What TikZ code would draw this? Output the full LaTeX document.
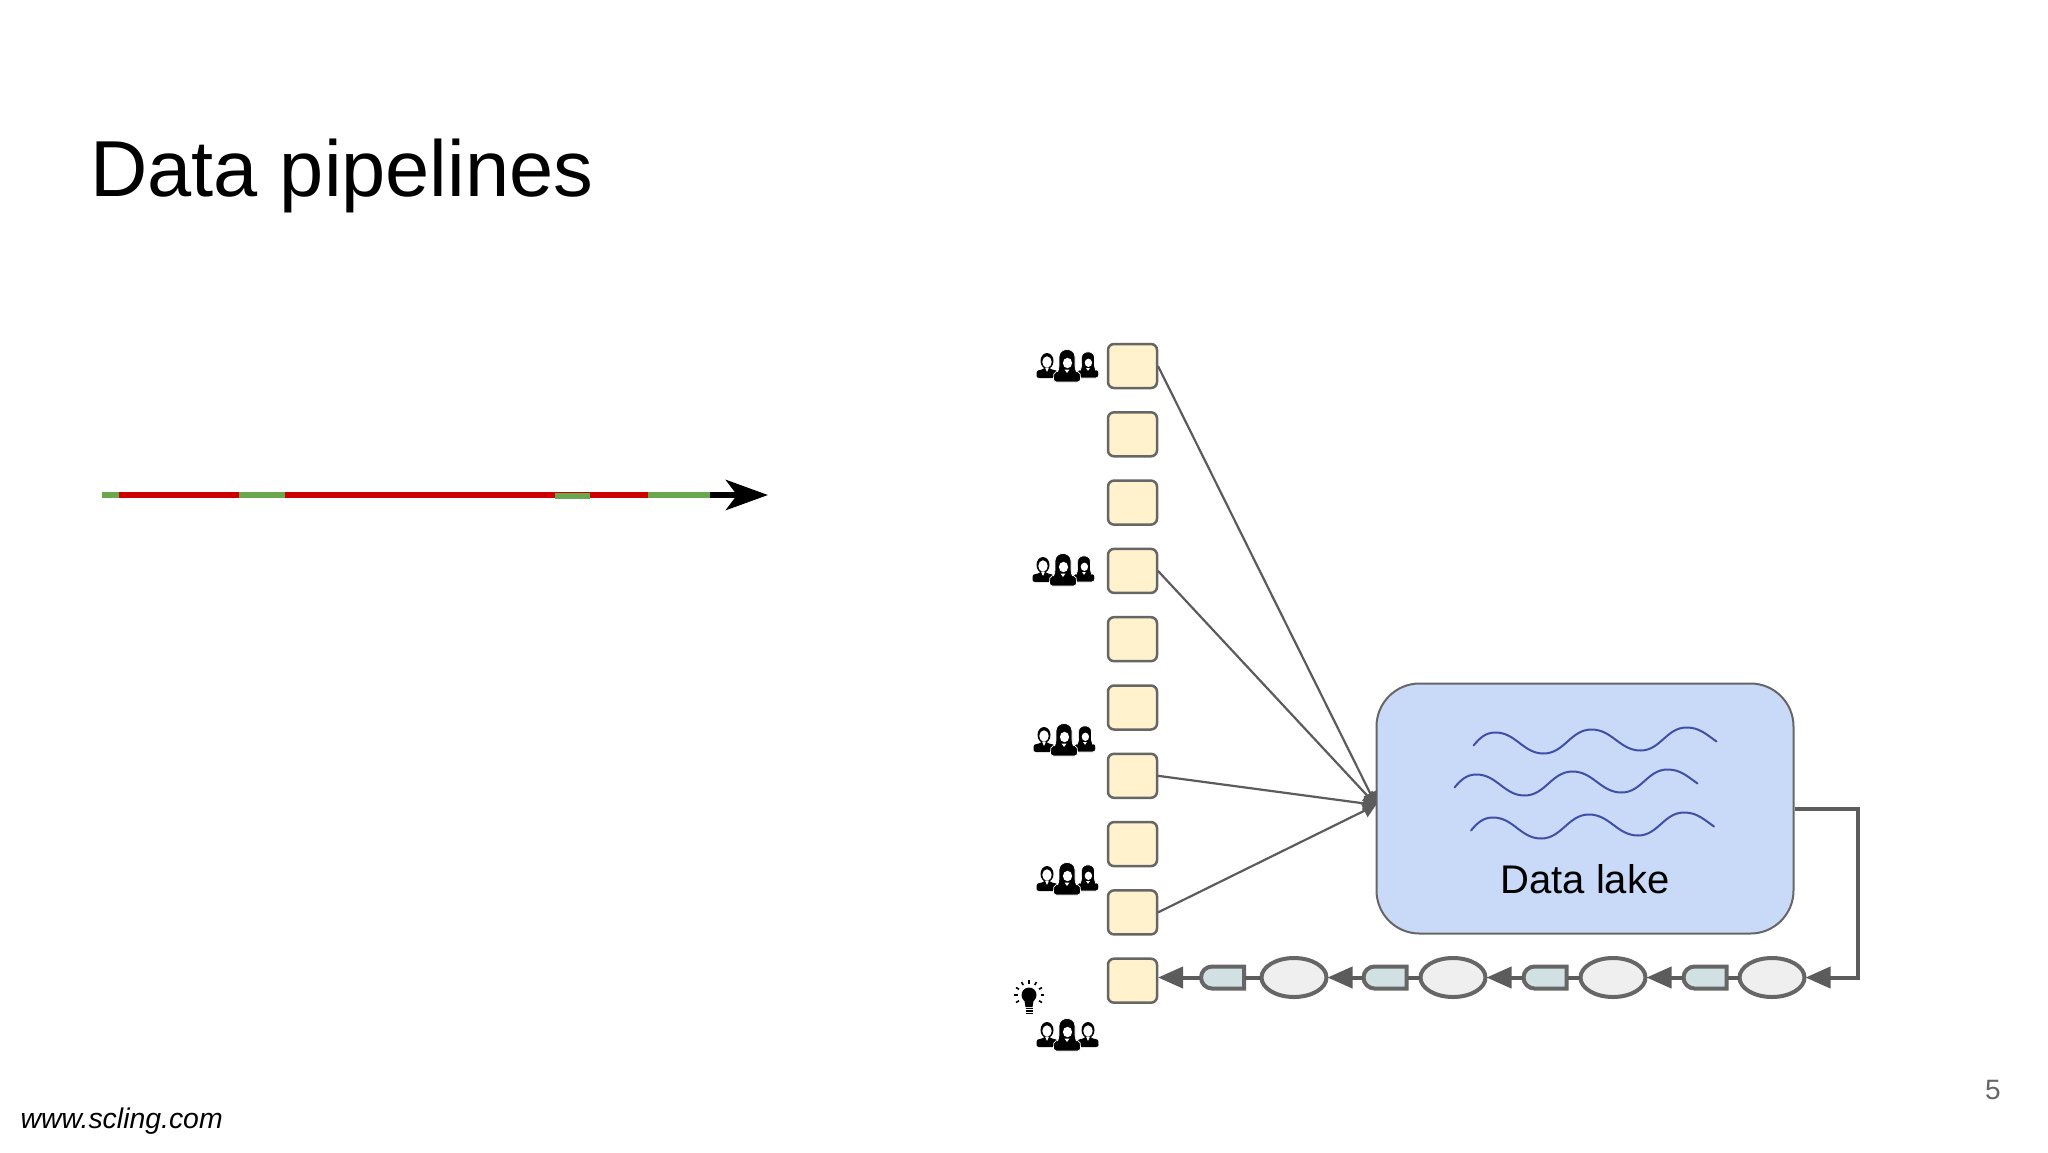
\documentclass[tikz,border=0pt]{standalone}
\usepackage{fontspec}
\setmainfont{Liberation Sans}
\usetikzlibrary{arrows.meta}
\usetikzlibrary{positioning}
\usetikzlibrary{shapes.geometric}
\usetikzlibrary{shapes.misc}

\definecolor{boxedge}{HTML}{666666}
\definecolor{boxfill}{HTML}{FFF2CC}
\definecolor{lakefill}{HTML}{C9DAF8}
\definecolor{wavecol}{HTML}{3F4FA8}
\definecolor{jobfill}{HTML}{EFEFEF}
\definecolor{delayfill}{HTML}{D0E0E3}
\definecolor{goodcol}{HTML}{6AA84F}
\definecolor{badcol}{HTML}{CC0000}

\tikzset{
  source/.style={draw=boxedge, fill=boxfill, line width=2.5pt, rounded corners=6pt,
    minimum width=49pt, minimum height=44pt, inner sep=0pt, outer sep=1pt},
  lake/.style={draw=boxedge, fill=lakefill, line width=2pt, rounded corners=43pt,
    minimum width=417pt, minimum height=250pt, inner sep=0pt, outer sep=1pt},
  job/.style={ellipse, draw=boxedge, fill=jobfill, line width=4pt,
    minimum width=65pt, minimum height=39pt, inner sep=0pt, outer sep=1pt},
  delay/.style={rounded rectangle, rounded rectangle right arc=none, draw=boxedge,
    fill=delayfill, line width=4pt, minimum width=43pt, minimum height=22pt,
    inner sep=0pt, outer sep=1pt},
  feed/.style={draw=boxedge!90!black, line width=2.2pt, -{Triangle[length=13pt, width=14pt]}},
  flow/.style={draw=boxedge!90!black, line width=4pt},
  flowtip/.style={flow, -{Triangle[length=25pt, width=21pt]}},
  manfig/.pic={
    \fill[rounded corners=2.5pt] (-10.5,0) -- (-10.5,-4) .. controls (-10,-8) and (-5,-8) .. (-2,-11)
      -- (2,-11) .. controls (5,-8) and (10,-8) .. (10.5,-4) -- (10.5,0) -- cycle;
    \fill (0,-17) ellipse (6.5pt and 8pt);
    \fill[white] (0,-16) ellipse (4.7pt and 5.7pt);
    \fill[white] (-2,-10.5) -- (2,-10.5) -- (0,-6) -- cycle;
  },
  womanfig/.pic={
    \fill[draw=white, line width=0.7pt, rounded corners=3pt] (-13.5,0) -- (-13.5,-5) .. controls (-13,-10) and (-9,-11) .. (-8,-13)
      -- (-8,-22) .. controls (-8,-35) and (8,-35) .. (8,-22) -- (8,-13)
      .. controls (9,-11) and (13,-10) .. (13.5,-5) -- (13.5,0) -- cycle;
    \fill[white] (0.5,-19) ellipse (4.6pt and 5.2pt);
    \fill[white] (-2.5,-12.5) -- (2.5,-12.5) -- (0,-9) -- cycle;
  },
  wave/.pic={
    \draw[wavecol, line width=2pt, line cap=round] (0,0) to[out=50,in=180] (22,-13)
      to[out=0,in=180] (70,8) to[out=0,in=180] (118,-16) to[out=0,in=180] (167,5)
      to[out=0,in=180] (213,-18) to[out=0,in=145] (243,-4);
  },
}

% one row of people
\newcommand{\peoplerow}[3]{
  \path (#1-20,#2-4) pic {manfig};
  \path (#1+21,#2-4) pic[scale=#3] {\ifdim#3pt<1pt womanfig\else manfig\fi};
  \path (#1,#2) pic {womanfig};
}

\begin{document}
\begin{tikzpicture}[x=1pt, y=-1pt]

  \useasboundingbox[fill=white] (0,0) rectangle (2048,1152);

  \node[anchor=base west, inner sep=0pt, font=\fontsize{79.4}{90}\selectfont] (title) at (90,196) {Data pipelines};

  % timeline arrow
  \coordinate (line-start) at (102,495);
  \coordinate (line-end) at (768,495);
  \draw[line width=6.5pt, -{Stealth[length=42pt, width=30pt, inset=11pt]}] (line-start) -- (line-end);
  \foreach \a/\b/\c in {102/119/goodcol, 119/239/badcol, 239/285/goodcol, 285/648/badcol, 648/710/goodcol} {
    \draw[\c, line width=6.5pt] (\a,495) -- (\b,495);
  }
  \draw[goodcol, line width=6.5pt] (555,496) -- (590,496);

  % source boxes
  \foreach \i in {0,...,9} {
    \node[source] (source-\i) at (1132.5,{366+68.3*\i}) {};
  }

  % data lake
  \node[lake] (data-lake) at (1585,808.5) {};
  \node[anchor=base, inner sep=0pt, font=\fontsize{40}{46}\selectfont] (lake-label) at (1585,893) {Data lake};
  \path (1473.5,745.5) pic {wave};
  \path (1454.5,787.5) pic {wave};
  \path (1471,830.5) pic {wave};

  % feeds into the lake
  \coordinate (lake-in) at (1376,805);
  \foreach \i in {0,3,6,8} {
    \draw[feed] (source-\i.east) -- (lake-in);
  }

  % jobs and delays
  \foreach \i/\a/\b in {1/1772/1705, 2/1613/1545, 3/1453/1385, 4/1294/1222.5} {
    \node[job] (job-\i) at (\a,977.5) {};
    \node[delay] (delay-\i) at (\b,977.5) {};
  }
  \foreach \a/\b in {job-1/delay-1, job-2/delay-2, job-3/delay-3, job-4/delay-4} {
    \draw[flow] (\a.west) -- (\b.east);
  }
  \foreach \a/\b in {delay-1/job-2, delay-2/job-3, delay-3/job-4} {
    \draw[flowtip] (\a.west) -- (\b.east);
  }
  \draw[flowtip] (delay-4.west) -- (source-9.east |- delay-4.west);
  \draw[flowtip, line join=miter] (data-lake.east) -- ++(63,0) |- (job-1.east);

  % people
  \peoplerow{1067}{382}{0.8}
  \peoplerow{1063}{586}{0.8}
  \peoplerow{1064}{756}{0.8}
  \peoplerow{1067}{895}{0.8}
  \peoplerow{1067}{1051}{1}

  % light bulb
  \fill (1029,995) circle (7.5pt);
  \fill (1024,998) -- (1034,998) -- (1032.5,1007) -- (1025.5,1007) -- cycle;
  \foreach \y in {1008.5,1011,1013.5} {
    \draw[line width=1.6pt] (1025.5,\y) -- (1032.5,\y);
  }
  \foreach \r in {-30,0,...,210} {
    \draw[line width=1.6pt] (1029,995) ++(\r:11.5pt) -- ++(\r:3.5pt);
  }

  % footer
  \node[anchor=base west, inner sep=0pt, font=\fontsize{28.4}{34}\selectfont\itshape] (site) at (20.5,1128) {www.scling.com};
  \node[anchor=base, inner sep=0pt, text=boxedge, font=\fontsize{28}{34}\selectfont] (page-no) at (1993,1099) {5};

\end{tikzpicture}
\end{document}
